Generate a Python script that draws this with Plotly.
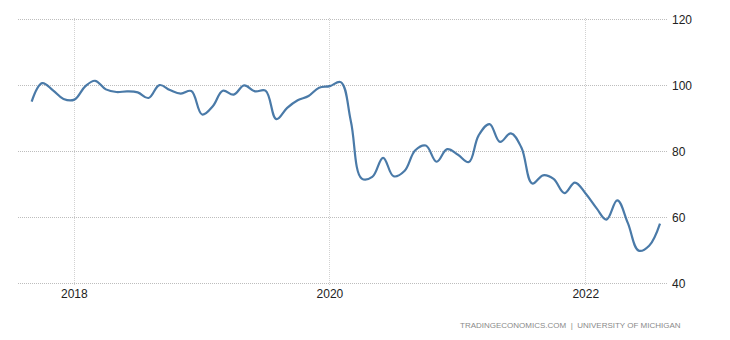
import plotly.graph_objects as go
import pandas as pd

dates = pd.date_range("2017-09-01", "2022-08-01", freq="MS")
values = [
    95.1, 100.7, 98.5, 95.9,
    95.7, 99.7, 101.4, 98.8, 98.0, 98.2, 97.9, 96.2, 100.1, 98.6, 97.5, 98.3,
    91.2, 93.8, 98.4, 97.2, 100.0, 98.2, 98.4, 89.8, 93.2, 95.5, 96.8, 99.3,
    99.8, 101.0, 89.1, 71.8, 72.3, 78.1, 72.5, 74.1, 80.4, 81.8, 76.9, 80.7,
    79.0, 76.8, 84.9, 88.3, 82.9, 85.5, 81.2, 70.3, 72.8, 71.7, 67.4, 70.6,
    67.2, 62.8, 59.4, 65.2, 58.4, 50.0, 51.5, 58.2,
]
x_tick_vals = ["2018-01-01", "2020-01-01", "2022-01-01"]
x_tick_text = ["2018", "2020", "2022"]
y_tick_vals = [40, 60, 80, 100, 120]

fig = go.Figure()
fig.add_trace(go.Scatter(
    x=dates, y=values, mode="lines",
    line=dict(color="#4a7aa8", width=2.2, shape="spline", smoothing=1.1),
    hoverinfo="skip",
))

fig.update_layout(
    width=730, height=340,
    margin=dict(l=18, r=63, t=18, b=55),
    paper_bgcolor="white", plot_bgcolor="white",
    showlegend=False,
    font=dict(family="Liberation Sans, Arial, sans-serif", size=12, color="#222"),
    xaxis=dict(
        range=["2017-07-24", "2022-08-21"],
        tickvals=x_tick_vals, ticktext=x_tick_text,
        showgrid=True, gridcolor="#d2d2d2", griddash="1px,1px", gridwidth=1,
        zeroline=False, showline=False, ticks="",
        tickfont=dict(size=12, color="#222"),
    ),
    yaxis=dict(
        range=[39.6, 120.4], side="right",
        tickvals=y_tick_vals,
        showgrid=True, gridcolor="#bdbdbd", griddash="1px,1px", gridwidth=1,
        zeroline=False, showline=False, ticks="",
        ticklabelstandoff=4,
        tickfont=dict(size=12, color="#222"),
    ),
    annotations=[dict(
        text="TRADINGECONOMICS.COM  |  UNIVERSITY OF MICHIGAN",
        xref="paper", yref="paper", x=(683 - 18) / 649, y=-(325 - 285) / 267,
        xanchor="right", yanchor="middle", showarrow=False,
        font=dict(size=8, color="#8a8a8a"),
    )],
)

fig.write_html("out.html")
